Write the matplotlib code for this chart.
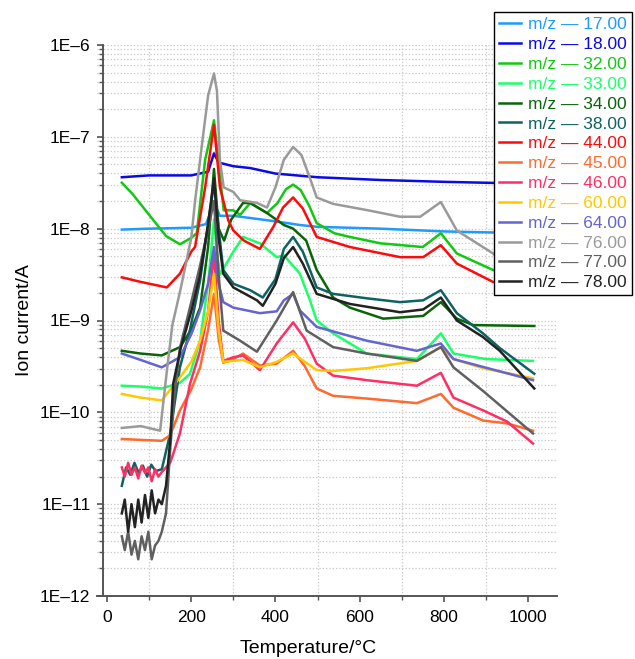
"""MS ion current traces vs temperature (log axis), 14 m/z channels."""

import numpy as np
import matplotlib
matplotlib.use("Agg")
import matplotlib.pyplot as plt
from matplotlib.ticker import FixedLocator, LogLocator, MultipleLocator, NullFormatter, FuncFormatter

plt.rcParams.update({
    "font.family": ["Liberation Sans", "DejaVu Sans"],
    "font.size": 12.5,
})

# values are log10(ion current / A)
mz_labels = [17, 18, 32, 33, 34, 38, 44, 45, 46, 60, 64, 76, 77, 78]
colors = ["#1e9bff", "#0a0ae6", "#12c812", "#1aff6a", "#0a640a", "#0f6262",
          "#ff0a0a", "#ff6a2e", "#ff2e63", "#ffc800", "#6464d2", "#9a9a9a",
          "#606060", "#222222"]

t17 = [35, 100, 200, 235, 254, 268, 300, 400, 458, 500, 650, 800, 900, 1015]
y17 = [-8.01, -8.0, -7.99, -7.95, -7.72, -7.86, -7.86, -7.92, -7.96, -7.98, -8.0, -8.03, -8.04, -8.05]

t18 = [35, 100, 200, 240, 254, 265, 300, 340, 400, 500, 650, 800, 900, 1015]
y18 = [-7.44, -7.42, -7.42, -7.38, -7.18, -7.28, -7.32, -7.34, -7.4, -7.44, -7.47, -7.49, -7.5, -7.51]

t32 = [35, 60, 100, 140, 173, 200, 213, 233, 254, 264, 277, 300, 316, 340, 380, 405, 425,
       442, 460, 480, 498, 540, 577, 650, 750, 793, 831, 917, 1015]
y32 = [-7.5, -7.62, -7.85, -8.08, -8.17, -8.1, -8.05, -7.25, -6.82, -7.25, -7.8, -7.8, -7.85,
       -7.72, -7.83, -7.72, -7.57, -7.52, -7.58, -7.75, -7.94, -8.05, -8.09, -8.16, -8.2, -8.05,
       -8.27, -8.45, -8.55]

t33 = [35, 80, 130, 173, 197, 221, 240, 254, 262, 268, 300, 323, 363, 403, 420, 458, 482,
       498, 537, 617, 736, 793, 823, 900, 1012]
y33 = [-9.71, -9.72, -9.74, -9.68, -9.58, -9.22, -8.6, -7.9, -8.3, -8.5, -8.25, -8.09, -8.16,
       -8.31, -8.29, -8.49, -8.78, -9.0, -9.14, -9.36, -9.42, -9.14, -9.36, -9.42, -9.44]

t34 = [35, 80, 130, 173, 200, 221, 240, 254, 265, 278, 295, 323, 340, 380, 420, 442, 473,
       498, 537, 577, 656, 751, 793, 831, 870, 1015]
y34 = [-9.33, -9.36, -9.38, -9.29, -9.1, -8.86, -8.2, -7.35, -8.0, -8.13, -7.9, -7.72, -7.72,
       -7.83, -7.96, -8.0, -8.13, -8.45, -8.75, -8.86, -8.98, -8.95, -8.8, -8.98, -9.05, -9.06]

t38 = [35, 45, 55, 65, 75, 85, 95, 105, 115, 130, 150, 173, 197, 221, 240, 254, 265, 276,
       300, 340, 370, 400, 420, 442, 465, 498, 537, 620, 696, 751, 793, 831, 893, 933, 1015]
y38 = [-10.8, -10.6, -10.68, -10.55, -10.66, -10.58, -10.7, -10.57, -10.64, -10.62, -10.23,
       -9.51, -9.1, -8.56, -7.95, -7.5, -8.0, -8.45, -8.6, -8.67, -8.75, -8.55, -8.22, -8.09,
       -8.25, -8.64, -8.71, -8.76, -8.8, -8.78, -8.67, -8.92, -9.14, -9.3, -9.58]

t44 = [35, 80, 142, 173, 200, 209, 233, 254, 268, 288, 300, 325, 363, 395, 418, 442, 465,
       498, 577, 696, 751, 793, 831, 917, 1015]
y44 = [-8.53, -8.58, -8.64, -8.49, -8.25, -8.2, -7.55, -6.87, -7.55, -7.91, -8.02, -8.13,
       -8.22, -7.98, -7.77, -7.66, -7.78, -8.09, -8.2, -8.31, -8.31, -8.18, -8.38, -8.58, -8.65]

t45 = [35, 80, 130, 150, 173, 200, 221, 240, 254, 265, 276, 300, 323, 363, 403, 442, 470,
       498, 537, 617, 736, 793, 823, 894, 950, 1012]
y45 = [-10.29, -10.3, -10.31, -10.25, -9.98, -9.75, -9.51, -9.1, -8.71, -9.2, -9.46, -9.42,
       -9.36, -9.49, -9.47, -9.33, -9.5, -9.74, -9.82, -9.85, -9.9, -9.8, -9.95, -10.09,
       -10.12, -10.2]

t46 = [35, 42, 50, 58, 66, 74, 82, 90, 98, 106, 114, 122, 130, 140, 150, 173, 197, 221,
       240, 254, 265, 276, 300, 323, 363, 403, 442, 470, 498, 537, 617, 736, 793, 823, 894,
       950, 1012]
y46 = [-10.6, -10.7, -10.55, -10.68, -10.6, -10.72, -10.58, -10.66, -10.6, -10.75, -10.62,
       -10.7, -10.65, -10.6, -10.55, -10.23, -9.69, -9.33, -8.9, -8.27, -9.0, -9.44, -9.4,
       -9.38, -9.54, -9.25, -9.02, -9.2, -9.47, -9.6, -9.65, -9.71, -9.57, -9.84, -9.98,
       -10.1, -10.34]

t60 = [35, 80, 130, 173, 200, 221, 240, 254, 265, 276, 323, 363, 403, 442, 498, 537, 617,
       736, 793, 823, 894, 1012]
y60 = [-9.8, -9.84, -9.87, -9.62, -9.45, -9.22, -8.9, -8.49, -9.1, -9.45, -9.43, -9.51,
       -9.45, -9.36, -9.54, -9.55, -9.52, -9.44, -9.29, -9.42, -9.52, -9.63]

t64 = [35, 80, 130, 173, 200, 221, 240, 254, 265, 276, 300, 363, 403, 420, 442, 458, 498,
       617, 736, 793, 823, 1012]
y64 = [-9.36, -9.43, -9.51, -9.4, -9.15, -8.89, -8.6, -8.2, -8.6, -8.8, -8.86, -8.92, -8.9,
       -8.78, -8.71, -8.89, -9.07, -9.22, -9.33, -9.25, -9.42, -9.65]

t76 = [35, 80, 126, 142, 155, 175, 200, 209, 225, 240, 254, 261, 268, 277, 300, 316, 356,
       380, 400, 420, 442, 462, 482, 498, 537, 620, 696, 744, 793, 831, 917, 1015]
y76 = [-10.17, -10.15, -10.2, -9.55, -9.05, -8.65, -8.1, -7.7, -7.1, -6.55, -6.31, -6.5,
       -7.25, -7.55, -7.6, -7.69, -7.72, -7.77, -7.55, -7.25, -7.11, -7.2, -7.45, -7.66, -7.73,
       -7.8, -7.87, -7.87, -7.71, -8.02, -8.27, -8.7]

t77 = [35, 42, 50, 58, 66, 74, 82, 90, 98, 106, 114, 122, 130, 140, 150, 160, 173, 200,
       221, 240, 254, 265, 276, 316, 356, 403, 442, 474, 537, 617, 736, 793, 823, 894, 1012]
y77 = [-11.35, -11.5, -11.3, -11.55, -11.4, -11.6, -11.35, -11.5, -11.3, -11.6, -11.45,
       -11.4, -11.3, -11.1, -10.4, -9.8, -9.3, -8.8, -8.4, -8.0, -7.7, -8.5, -9.11, -9.22,
       -9.34, -9.0, -8.69, -9.11, -9.29, -9.36, -9.44, -9.29, -9.51, -9.77, -10.23]

t78 = [35, 42, 50, 58, 66, 74, 82, 90, 98, 106, 114, 122, 130, 140, 150, 157, 175, 200,
       221, 240, 254, 265, 276, 300, 356, 370, 400, 420, 442, 465, 498, 577, 696, 751, 793,
       831, 893, 933, 1015]
y78 = [-11.1, -10.95, -11.3, -11.0, -11.25, -10.95, -11.2, -10.9, -11.15, -10.85, -11.1,
       -10.95, -11.0, -10.8, -10.3, -9.69, -9.3, -8.9, -8.5, -7.95, -7.45, -8.1, -8.49, -8.64,
       -8.78, -8.84, -8.6, -8.32, -8.2, -8.38, -8.71, -8.82, -8.91, -8.88, -8.75, -9.0,
       -9.18, -9.33, -9.74]

temps = [t17, t18, t32, t33, t34, t38, t44, t45, t46, t60, t64, t76, t77, t78]
logs = [y17, y18, y32, y33, y34, y38, y44, y45, y46, y60, y64, y76, y77, y78]
decades = [-12, -11, -10, -9, -8, -7, -6]

W, H = 635, 659
fig = plt.figure(figsize=(W / 100, H / 100), dpi=100)
ax = fig.add_axes([97 / W, 1 - 596 / H, (557 - 97) / W, (596 - 45) / H])

for mz, c, t, ly in zip(mz_labels, colors, temps, logs):
    ax.plot(t, 10 ** np.array(ly), color=c, lw=1.8, label=f"m/z \u2014 {mz:.2f}")

ax.set_yscale("log")
ax.set_ylim(1e-12, 1e-6)
ax.set_xlim(-24, 1069)

ax.yaxis.set_major_locator(FixedLocator([10.0 ** d for d in decades]))
ax.yaxis.set_minor_locator(LogLocator(base=10, subs=np.arange(2, 10), numticks=20))
ax.yaxis.set_minor_formatter(NullFormatter())
ax.yaxis.set_major_formatter(FuncFormatter(lambda v, p: f"1E\u2013{int(round(-np.log10(v)))}"))
ax.xaxis.set_major_locator(MultipleLocator(200))
ax.xaxis.set_minor_locator(MultipleLocator(100))

ax.grid(True, which="both", axis="y", ls=":", color="#c8c8c8", lw=0.9)
ax.grid(True, which="minor", axis="x", ls=":", color="#c8c8c8", lw=0.9)
ax.set_axisbelow(True)

for s in ["top", "right"]:
    ax.spines[s].set_visible(False)
for s in ["left", "bottom"]:
    ax.spines[s].set_color("#555555")
    ax.spines[s].set_linewidth(1.4)
ax.spines["left"].set_position(("data", -10))

ax.tick_params(which="major", length=4, width=1.2, color="#555555", labelsize=12.5, pad=5)
ax.tick_params(which="minor", length=3, width=1.0, color="#555555")
ax.tick_params(axis="x", which="major", pad=6)

ax.set_xlabel("Temperature/\u00b0C", fontsize=14)
ax.xaxis.set_label_coords(0.46, -0.08)
ax.set_ylabel("Ion current/A", fontsize=14)
ax.yaxis.set_label_coords(-0.14, 0.5)

leg = ax.legend(loc="upper left", bbox_to_anchor=(494 / W, 1 - 12 / H),
                bbox_transform=fig.transFigure, fancybox=False, framealpha=1,
                edgecolor="black", fontsize=12.5, handlelength=1.25, handletextpad=0.4,
                labelspacing=0.27, borderpad=0.3, borderaxespad=0, labelcolor="linecolor")
leg.get_frame().set_linewidth(1.0)

fig.savefig("out.png", dpi=100)
